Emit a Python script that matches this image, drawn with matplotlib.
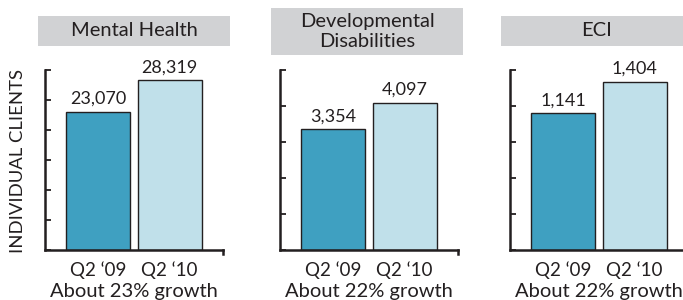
import matplotlib
matplotlib.use("Agg")
import matplotlib.pyplot as plt
from matplotlib.patches import Rectangle

plt.rcParams['font.family'] = ['Lato', 'DejaVu Sans']

titles = ["Mental Health", "Developmental\nDisabilities", "ECI"]
periods = ["Q2 \u201809", "Q2 \u201810"]
values_mh = [23070, 28319]
values_dd = [3354, 4097]
values_eci = [1141, 1404]
growth = ["About 23% growth", "About 22% growth", "About 22% growth"]
ymax = [30000, 5000, 1500]
ystep = [5000, 1000, 300]
labels_mh = ["23,070", "28,319"]
labels_dd = ["3,354", "4,097"]
labels_eci = ["1,141", "1,404"]

series = [values_mh, values_dd, values_eci]
labels = [labels_mh, labels_dd, labels_eci]

W, H = 683, 300
fig = plt.figure(figsize=(W / 100, H / 100), dpi=100)

dark = "#3FA0C1"
light = "#C0E0EA"
edge = "#231F20"
grey = "#D1D2D4"

ax_left = [45, 280, 510]
ax_w = 178
ax_top, ax_bot = 70, 250
boxes = [(38, 16, 192, 30), (271, 8, 192, 47), (501, 16, 192, 30)]

for i in range(3):
    l = ax_left[i]
    ax = fig.add_axes([l / W, 1 - ax_bot / H, ax_w / W, (ax_bot - ax_top) / H])
    ax.set_facecolor("none")
    x = [0, 1]
    ax.bar(x, series[i], width=0.9, color=[dark, light], edgecolor=edge, linewidth=1.0, zorder=2)
    for xi, v, lab in zip(x, series[i], labels[i]):
        ax.text(xi, v + ymax[i] * 0.025, lab, ha="center", va="bottom", fontsize=13, color=edge)
    ax.set_xlim(-0.75, 1.75)
    ax.set_ylim(0, ymax[i])
    ticks = list(range(0, ymax[i] + 1, ystep[i]))
    ax.set_yticks(ticks)
    ax.set_yticklabels([])
    ax.tick_params(axis="y", direction="in", length=4, width=1.3, color=edge)
    ax.set_xticks(x)
    ax.set_xticklabels(periods, fontsize=13.5, color=edge)
    ax.tick_params(axis="x", length=0, pad=8)
    for s in ["top", "right"]:
        ax.spines[s].set_visible(False)
    for s in ["left", "bottom"]:
        ax.spines[s].set_linewidth(1.8)
        ax.spines[s].set_color(edge)
    ax.plot([1.75, 1.75], [0, -ymax[i] * 0.02], color=edge, lw=1.8, clip_on=False)
    ax.text(0.5, -0.26, growth[i], transform=ax.transAxes, ha="center", va="baseline",
            fontsize=14.5, color=edge)
    bx, by, bw, bh = boxes[i]
    fig.patches.append(Rectangle((bx / W, 1 - (by + bh) / H), bw / W, bh / H,
                                 transform=fig.transFigure, facecolor=grey,
                                 edgecolor="none", zorder=0))
    fig.text((bx + bw / 2) / W, 1 - (by + bh / 2) / H, titles[i], ha="center", va="center",
             fontsize=14.5, color=edge, linespacing=1.2)

fig.text(18 / W, 1 - 161 / H, "INDIVIDUAL CLIENTS", rotation=90, ha="center", va="center",
         fontsize=13.3, color=edge)

fig.savefig("out.png", dpi=100)
